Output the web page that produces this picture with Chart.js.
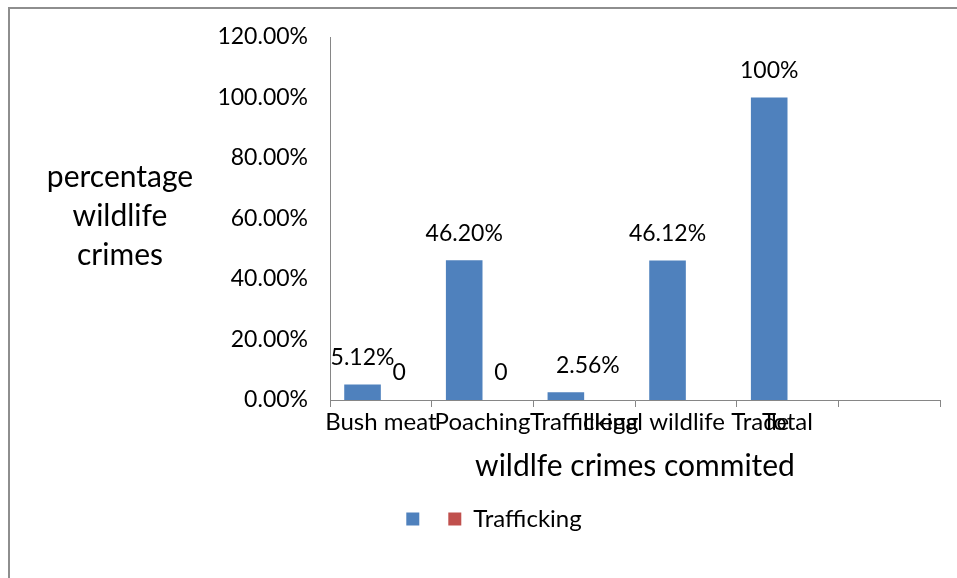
<!DOCTYPE html>
<html>
<head>
<meta charset="utf-8">
<script src="https://cdn.jsdelivr.net/npm/chart.js@4"></script>
<style>
	body { margin: 0; background: #fff; }
</style>
</head>
<body>
<canvas id="crimesChart" width="957" height="578"></canvas>
<script>
	let categorias = ['Bush meat', 'Poaching', 'Trafficking', 'Illegal wildlife Trade', 'Total', ''];
	let porcentajes = [5.12, 46.20, 2.56, 46.12, 100, null];
	let trafficking = [0, 0, null, null, null, null];
	let ticksY = [0, 20, 40, 60, 80, 100, 120];
	let tituloY = ['percentage', 'wildlife', 'crimes'];
	let tituloX = 'wildlfe crimes commited';

	let fuente = 'Lato, "DejaVu Sans", sans-serif';
	Chart.defaults.font.family = fuente;
	Chart.defaults.color = '#000';

	// borde gris del recuadro (solo izquierda y arriba quedan dentro)
	let marco = {
		id: 'marco',
		beforeDraw(chart){
			let c = chart.ctx;
			c.save();
			c.strokeStyle = '#8e8e8e';
			c.lineWidth = 2;
			c.beginPath();
			c.moveTo(9, 578);
			c.lineTo(9, 8);
			c.lineTo(957, 8);
			c.stroke();
			c.restore();
		}
	};

	// titulo del eje Y en horizontal, tres lineas
	let tituloVertical = {
		id: 'tituloVertical',
		afterDraw(chart){
			let c = chart.ctx;
			c.save();
			c.font = '30px ' + fuente;
			c.fillStyle = '#000';
			c.textAlign = 'center';
			c.textBaseline = 'middle';
			tituloY.forEach(function(linea, i){
				c.fillText(linea, 120, 177 + i * 39);
			});
			c.restore();
		}
	};

	// valores encima de cada barra
	let etiquetas = {
		id: 'etiquetas',
		afterDatasetsDraw(chart, args, opts){
			let c = chart.ctx;
			c.save();
			c.font = '23px ' + fuente;
			c.fillStyle = '#000';
			c.textAlign = 'center';
			c.textBaseline = 'middle';
			chart.data.datasets.forEach(function(ds, d){
				let meta = chart.getDatasetMeta(d);
				meta.data.forEach(function(bar, i){
					let v = ds.data[i];
					if (v == null) return;
					let texto = d == 0 ? (Number.isInteger(v) ? v + '%' : v.toFixed(2) + '%') : String(v);
					let dx = (opts.corrimiento[d] && opts.corrimiento[d][i]) || 0;
					c.fillText(texto, bar.x + dx, bar.y - 27);
				});
			});
			c.restore();
		}
	};

	let ctx = document.getElementById('crimesChart').getContext('2d');

	new Chart(ctx, {
		type: 'bar',
		data: {
			labels: categorias,
			datasets: [{
				label: '',
				data: porcentajes,
				backgroundColor: '#4F81BD',
				borderWidth: 0
			},
			{
				label: 'Trafficking',
				data: trafficking,
				backgroundColor: '#C0504D',
				borderWidth: 0
			}]
		},
		plugins: [marco, tituloVertical, etiquetas],
		options: {
			responsive: false,
			animation: false,
			categoryPercentage: 0.72,
			barPercentage: 1,
			layout: {
				padding: {left: 48, top: 37, right: 17, bottom: 37}
			},
			plugins: {
				tooltip: {enabled: false},
				etiquetas: {
					corrimiento: {0: {2: 22}}
				},
				legend: {
					display: true,
					position: 'bottom',
					labels: {
						color: '#000',
						boxWidth: 13,
						boxHeight: 13,
						padding: 17,
						font: {size: 24}
					}
				}
			},
			scales: {
				x: {
					grid: {
						display: true,
						drawOnChartArea: false,
						drawTicks: true,
						tickLength: 7,
						color: '#868686',
						offset: true
					},
					border: {color: '#868686', width: 1},
					ticks: {
						font: {size: 24},
						padding: 1,
						maxRotation: 0,
						minRotation: 0,
						autoSkip: false
					},
					title: {
						display: true,
						text: tituloX,
						font: {size: 30},
						padding: {top: 0, bottom: 6}
					},
					afterFit(scale){
						scale.height = 90;
					}
				},
				y: {
					min: 0,
					max: 120,
					grid: {display: false, drawTicks: false},
					border: {display: true, color: '#868686', width: 1},
					ticks: {
						font: {size: 23},
						padding: 22,
						callback: function(v){ return v.toFixed(2) + '%'; }
					},
					afterBuildTicks(scale){
						scale.ticks = ticksY.map(function(v){ return {value: v}; });
					},
					afterFit(scale){
						scale.width = 282;
					}
				}
			}
		}
	});
</script>
</body>
</html>
